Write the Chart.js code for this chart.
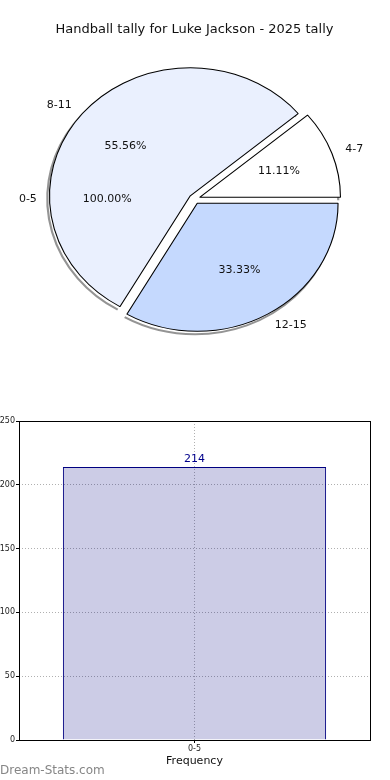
<!DOCTYPE html>
<html>
<head>
<meta charset="utf-8">
<script src="https://cdn.jsdelivr.net/npm/chart.js@4.4.1/dist/chart.umd.min.js"></script>
<style>
    html, body { margin: 0; padding: 0; background: #fff; }
    body { width: 390px; height: 780px; position: relative; overflow: hidden; font-family: 'DejaVu Sans', sans-serif; }
    #pieChart { position: absolute; left: 0; top: 0; }
    #barChart { position: absolute; left: 0; top: 390px; }
    #marca { position: absolute; left: 0; top: 763px; font-size: 12px; color: #868686; }
</style>
</head>
<body>
<canvas id="pieChart" width="390" height="390"></canvas>
<canvas id="barChart" width="390" height="390"></canvas>
<div id="marca">Dream-Stats.com</div>
<script>
const titulo = 'Handball tally for Luke Jackson - 2025 tally';

// pizza (ordem anti-horária a partir das 3h, como no original)
const faixas = ['0-5', '4-7', '8-11', '12-15'];
const valoresPizza = [0, 1, 5, 3];
const percentuais = ['100.00%', '11.11%', '55.56%', '33.33%'];
const coresPizza = ['#ffffff', '#ffffff', '#eaf0fe', '#c5d9fe'];

// barras
const categoriasBarra = ['0-5'];
const frequencias = [214];
const ticksY = [0, 50, 100, 150, 200, 250];

const ESCALA_X = 1.1;   // a pizza é uma elipse um pouco mais larga
const EXPLODIR = 5;

Chart.defaults.font.family = "'DejaVu Sans', sans-serif";

function anguloMeio(arc) {
    // fatia vazia (0-5): o rótulo vai para o lado oposto, como numa volta completa
    return arc.circumference === 0 ? arc.startAngle + Math.PI : (arc.startAngle + arc.endAngle) / 2;
}

const pluginPizza = {
    id: 'pizzaElipse',
    afterDatasetUpdate(chart, args) {
        args.meta.data.forEach(arc => {
            const a = anguloMeio(arc);
            const k = arc.circumference === 0 ? 0.5 : 1;
            arc.x += Math.cos(a) * EXPLODIR * k;
            arc.y += Math.sin(a) * EXPLODIR * k;
        });
    },
    beforeDatasetsDraw(chart) {
        const ctx = chart.ctx;
        const { left, right, top, bottom } = chart.chartArea;
        const cx = (left + right) / 2, cy = (top + bottom) / 2;
        ctx.save();
        ctx.translate(cx, cy);
        ctx.scale(ESCALA_X, 1);
        ctx.translate(-cx, -cy);

        // sombra na borda externa
        ctx.save();
        ctx.strokeStyle = 'rgba(0,0,0,0.42)';
        ctx.lineWidth = 2;
        chart.getDatasetMeta(0).data.forEach(arc => {
            if (!arc.circumference) return;
            ctx.beginPath();
            ctx.arc(arc.x - 2, arc.y + 3, arc.outerRadius, arc.startAngle, arc.endAngle);
            ctx.stroke();
        });
        ctx.restore();
    },
    afterDatasetsDraw(chart) {
        const ctx = chart.ctx;
        ctx.restore();

        const { left, right } = chart.chartArea;
        const cx = (left + right) / 2;
        const meta = chart.getDatasetMeta(0);
        const n = faixas.length;

        ctx.save();
        ctx.font = "11px 'DejaVu Sans'";
        ctx.fillStyle = '#111';
        ctx.textBaseline = 'middle';
        faixas.forEach((rotulo, i) => {
            const arc = meta.data[n - 1 - i];
            const a = anguloMeio(arc);
            const r = arc.outerRadius;
            const px = k => cx + (arc.x + Math.cos(a) * r * k - cx) * ESCALA_X;
            const py = k => arc.y + Math.sin(a) * r * k;

            ctx.textAlign = Math.cos(a) >= 0 ? 'left' : 'right';
            ctx.fillText(rotulo, px(1.1), py(1.1));
            ctx.textAlign = 'center';
            ctx.fillText(percentuais[i], px(0.6), py(0.6));
        });
        ctx.restore();
    }
};

new Chart(document.getElementById('pieChart'), {
    type: 'pie',
    data: {
        labels: faixas.slice().reverse(),
        datasets: [{
            data: valoresPizza.slice().reverse(),
            backgroundColor: coresPizza.slice().reverse(),
            borderColor: '#000',
            borderWidth: 1,
            hoverOffset: 0
        }]
    },
    options: {
        responsive: false,
        animation: false,
        rotation: 90,
        radius: 128,
        layout: { padding: { top: 0, right: 1, bottom: 29.6, left: 0 } },
        plugins: {
            legend: { display: false },
            tooltip: { enabled: false },
            title: {
                display: true,
                text: titulo,
                color: '#111',
                font: { size: 13, weight: 'normal' },
                padding: { top: 22, bottom: 0 }
            }
        }
    },
    plugins: [pluginPizza]
});

// ---------- BARRAS ----------

const pluginValor = {
    id: 'valorBarra',
    afterDatasetsDraw(chart) {
        const ctx = chart.ctx;
        ctx.save();
        ctx.fillStyle = '#00008b';
        ctx.font = "11px 'DejaVu Sans'";
        ctx.textAlign = 'center';
        ctx.textBaseline = 'middle';
        chart.getDatasetMeta(0).data.forEach((bar, i) => {
            ctx.fillText(frequencias[i], bar.x, bar.y - 8);
        });
        ctx.restore();
    }
};

const pluginMoldura = {
    id: 'moldura',
    afterDraw(chart) {
        const { ctx, chartArea: a } = chart;
        ctx.save();
        ctx.strokeStyle = '#000';
        ctx.lineWidth = 1;
        ctx.strokeRect(a.left + 0.5, a.top + 0.5, a.right - a.left, a.bottom - a.top);
        ctx.restore();
    }
};

function grade() {
    return { color: '#b0b0b0', tickColor: '#000', tickLength: 3, tickWidth: 1 };
}

new Chart(document.getElementById('barChart'), {
    type: 'bar',
    data: {
        labels: categoriasBarra,
        datasets: [{
            data: frequencias,
            backgroundColor: 'rgba(0, 0, 128, 0.2)',
            borderColor: '#000080',
            borderWidth: 1,
            barPercentage: 0.75,
            categoryPercentage: 1
        }]
    },
    options: {
        responsive: false,
        animation: false,
        layout: { padding: { top: 31, right: 20, bottom: 12, left: 0 } },
        plugins: { legend: { display: false }, tooltip: { enabled: false } },
        scales: {
            x: {
                grid: { ...grade(), offset: false },
                border: { display: false, dash: [1, 2] },
                ticks: { font: { size: 8 }, color: '#222', padding: 1 },
                title: { display: true, text: 'Frequency', color: '#111', font: { size: 11 }, padding: { top: 0, bottom: 0 } },
                afterFit: s => { s.height = 28; }
            },
            y: {
                min: 0,
                max: 250,
                afterBuildTicks: s => { s.ticks = ticksY.map(v => ({ value: v })); },
                grid: grade(),
                border: { display: false, dash: [1, 2] },
                ticks: { font: { size: 8 }, color: '#222', padding: 1 },
                afterFit: s => { s.width = 19; }
            }
        }
    },
    plugins: [pluginValor, pluginMoldura]
});
</script>
</body>
</html>
